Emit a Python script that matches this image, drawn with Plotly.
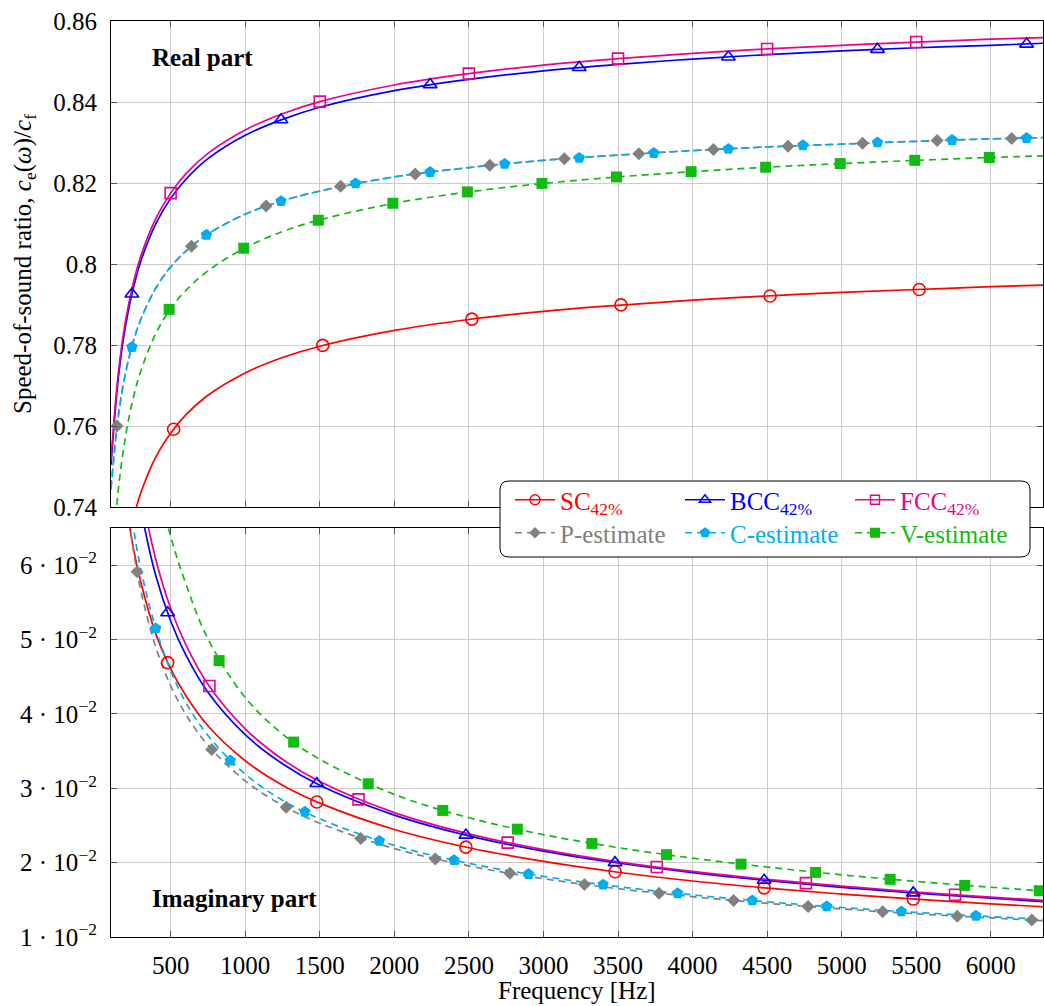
import plotly.graph_objects as go

# ---------------- data ----------------
freq = [100, 150, 200, 250, 300, 400, 500, 600, 750, 1000, 1250, 1500,
        2000, 2500, 3000, 3500, 4000, 4500, 5000, 5500, 6000, 6350]

# real part of c_e / c_f
re_sc = [0.6955, 0.7163, 0.7287, 0.7372, 0.7435, 0.7523, 0.7582, 0.7627, 0.7676, 0.7731, 0.7769, 0.7797,
         0.7836, 0.7863, 0.7883, 0.7898, 0.7911, 0.7921, 0.7930, 0.7937, 0.7944, 0.7948]
re_bcc = [0.7504, 0.7722, 0.7853, 0.7941, 0.8007, 0.8099, 0.8162, 0.8208, 0.8260, 0.8318, 0.8357, 0.8387,
          0.8428, 0.8456, 0.8477, 0.8493, 0.8506, 0.8517, 0.8526, 0.8534, 0.8540, 0.8545]
re_fcc = [0.7515, 0.7734, 0.7865, 0.7954, 0.8020, 0.8112, 0.8175, 0.8222, 0.8273, 0.8331, 0.8371, 0.8401,
          0.8442, 0.8470, 0.8491, 0.8507, 0.8520, 0.8531, 0.8540, 0.8548, 0.8555, 0.8559]
re_p = [0.7448, 0.7630, 0.7736, 0.7809, 0.7864, 0.7940, 0.7993, 0.8031, 0.8074, 0.8123, 0.8156, 0.8180,
        0.8215, 0.8238, 0.8256, 0.8269, 0.8280, 0.8289, 0.8296, 0.8303, 0.8309, 0.8312]
re_c = [0.7443, 0.7625, 0.7734, 0.7808, 0.7863, 0.7940, 0.7993, 0.8031, 0.8074, 0.8123, 0.8156, 0.8180,
        0.8215, 0.8238, 0.8256, 0.8269, 0.8280, 0.8289, 0.8296, 0.8303, 0.8309, 0.8312]
re_v = [0.7228, 0.7446, 0.7580, 0.7670, 0.7736, 0.7828, 0.7890, 0.7934, 0.7983, 0.8040, 0.8080, 0.8109,
        0.8150, 0.8178, 0.8199, 0.8215, 0.8228, 0.8239, 0.8248, 0.8256, 0.8263, 0.8267]

# imaginary part of c_e / c_f
im_sc = [0.0920, 0.0776, 0.0686, 0.0623, 0.0577, 0.0508, 0.0461, 0.0425, 0.0384, 0.0337, 0.0304, 0.0280,
         0.02446, 0.0220, 0.02016, 0.01871, 0.01753, 0.01658, 0.01577, 0.01508, 0.01446, 0.01407]
im_bcc = [0.1160, 0.0950, 0.0825, 0.0739, 0.0676, 0.0586, 0.0525, 0.0480, 0.0429, 0.0372, 0.0333, 0.0304,
          0.02639, 0.0236, 0.02154, 0.01995, 0.01866, 0.01759, 0.01667, 0.0159, 0.01521, 0.01477]
im_fcc = [0.1220, 0.0996, 0.0863, 0.0771, 0.0703, 0.0608, 0.0542, 0.0494, 0.0440, 0.0380, 0.0339, 0.0309,
          0.02672, 0.02386, 0.02174, 0.02011, 0.01882, 0.01774, 0.01683, 0.01605, 0.01536, 0.01493]
im_p = [0.0980, 0.0800, 0.0693, 0.0620, 0.0566, 0.0490, 0.0438, 0.0400, 0.0358, 0.0310, 0.0277, 0.0253,
        0.02189, 0.01956, 0.01784, 0.0165, 0.01542, 0.01452, 0.01377, 0.01312, 0.01256, 0.0122]
im_c = [0.1030, 0.0841, 0.0728, 0.0651, 0.0595, 0.0515, 0.0458, 0.0416, 0.0371, 0.0319, 0.0284, 0.0259,
        0.02232, 0.0199, 0.01815, 0.01678, 0.01567, 0.01474, 0.01397, 0.01331, 0.01274, 0.01239]
im_v = [0.1500, 0.1225, 0.1054, 0.0936, 0.0849, 0.0725, 0.0639, 0.0576, 0.0501, 0.0422, 0.0373, 0.0339,
        0.02918, 0.02604, 0.02377, 0.02202, 0.0206, 0.01941, 0.01836, 0.01748, 0.01669, 0.01619]

# marker samples (frequency, value) — real part
re_sc_mf = [520, 1520, 2520, 3520, 4520, 5520]
re_sc_mv = [0.7592, 0.7799, 0.7864, 0.7899, 0.7921, 0.7937]
re_bcc_mf = [240, 1240, 2240, 3240, 4240, 5240, 6240]
re_bcc_mv = [0.7926, 0.8356, 0.8443, 0.8485, 0.8511, 0.8530, 0.8543]
re_fcc_mf = [500, 1500, 2500, 3500, 4500, 5500]
re_fcc_mv = [0.8175, 0.8401, 0.8470, 0.8507, 0.8531, 0.8548]
re_p_mf = [140, 640, 1140, 1640, 2140, 2640, 3140, 3640, 4140, 4640, 5140, 5640, 6140]
re_p_mv = [0.7600, 0.8044, 0.8143, 0.8192, 0.8222, 0.8244, 0.8260, 0.8272, 0.8283, 0.8291, 0.8298, 0.8305, 0.8310]
re_c_mf = [240, 740, 1240, 1740, 2240, 2740, 3240, 3740, 4240, 4740, 5240, 5740, 6240]
re_c_mv = [0.7795, 0.8072, 0.8155, 0.8199, 0.8227, 0.8247, 0.8262, 0.8274, 0.8284, 0.8293, 0.8300, 0.8306, 0.8311]
re_v_mf = [490, 990, 1490, 1990, 2490, 2990, 3490, 3990, 4490, 4990, 5490, 5990]
re_v_mv = [0.7888, 0.8039, 0.8108, 0.8150, 0.8178, 0.8199, 0.8215, 0.8228, 0.8239, 0.8248, 0.8256, 0.8263]

# marker samples — imaginary part
im_sc_mf = [480, 1480, 2480, 3480, 4480, 5480]
im_sc_mv = [0.0469, 0.02816, 0.02208, 0.01877, 0.01661, 0.0151]
im_bcc_mf = [480, 1480, 2480, 3480, 4480, 5480]
im_bcc_mv = [0.0536, 0.03065, 0.0237, 0.0200, 0.01763, 0.01593]
im_fcc_mf = [760, 1760, 2760, 3760, 4760, 5760]
im_fcc_mv = [0.04375, 0.02851, 0.02269, 0.01941, 0.01725, 0.01568]
im_p_mf = [275, 775, 1275, 1775, 2275, 2775, 3275, 3775, 4275, 4775, 5275, 5775, 6275]
im_p_mv = [0.0591, 0.0352, 0.02745, 0.02326, 0.0205, 0.01857, 0.01707, 0.01589, 0.01491, 0.0141, 0.01341, 0.0128, 0.01227]
im_c_mf = [400, 900, 1400, 1900, 2400, 2900, 3400, 3900, 4400, 4900, 5400, 5900]
im_c_mv = [0.0515, 0.03373, 0.02683, 0.02292, 0.02033, 0.01846, 0.01703, 0.01587, 0.01491, 0.01411, 0.01343, 0.01285]
im_v_mf = [825, 1325, 1825, 2325, 2825, 3325, 3825, 4325, 4825, 5325, 5825, 6325]
im_v_mv = [0.04717, 0.03621, 0.0306, 0.02702, 0.0245, 0.02258, 0.02107, 0.0198, 0.01869, 0.01776, 0.01694, 0.01622]

x_ticks = [500, 1000, 1500, 2000, 2500, 3000, 3500, 4000, 4500, 5000, 5500, 6000]
re_ticks = [0.74, 0.76, 0.78, 0.80, 0.82, 0.84, 0.86]
re_tick_text = ["0.74", "0.76", "0.78", "0.8", "0.82", "0.84", "0.86"]
im_ticks = [0.01, 0.02, 0.03, 0.04, 0.05, 0.06]
im_tick_text = ["%d · 10<sup>−2</sup>" % k for k in [1, 2, 3, 4, 5, 6]]

# ---------------- styles ----------------
FONT = "Liberation Serif"
C_SC, C_BCC, C_FCC = "#ff0000", "#0000ff", "#ec008c"
C_P, C_C, C_V = "#808080", "#00aeef", "#11bb11"
DASH = "7px,5px"

series = [
    dict(name="SC<sub>42%</sub>", color=C_SC, dash="solid", symbol="circle-open", size=12, lg="legend",
         re=re_sc, im=im_sc, re_m=(re_sc_mf, re_sc_mv), im_m=(im_sc_mf, im_sc_mv)),
    dict(name="BCC<sub>42%</sub>", color=C_BCC, dash="solid", symbol="triangle-up-open", size=12, lg="legend",
         re=re_bcc, im=im_bcc, re_m=(re_bcc_mf, re_bcc_mv), im_m=(im_bcc_mf, im_bcc_mv)),
    dict(name="FCC<sub>42%</sub>", color=C_FCC, dash="solid", symbol="square-open", size=11, lg="legend",
         re=re_fcc, im=im_fcc, re_m=(re_fcc_mf, re_fcc_mv), im_m=(im_fcc_mf, im_fcc_mv)),
    dict(name="P-estimate", color=C_P, dash=DASH, symbol="diamond", size=10, lg="legend2",
         re=re_p, im=im_p, re_m=(re_p_mf, re_p_mv), im_m=(im_p_mf, im_p_mv)),
    dict(name="C-estimate", color=C_C, dash=DASH, symbol="pentagon", size=12, lg="legend2",
         re=re_c, im=im_c, re_m=(re_c_mf, re_c_mv), im_m=(im_c_mf, im_c_mv)),
    dict(name="V-estimate", color=C_V, dash=DASH, symbol="square", size=11, lg="legend2",
         re=re_v, im=im_v, re_m=(re_v_mf, re_v_mv), im_m=(im_v_mf, im_v_mv)),
]

fig = go.Figure()

# curves
for s in series:
    for ys, xa, ya in ((s["re"], "x", "y"), (s["im"], "x2", "y2")):
        fig.add_trace(go.Scatter(
            x=freq, y=ys, xaxis=xa, yaxis=ya, mode="lines",
            line=dict(color=s["color"], width=1.7, dash=s["dash"], shape="spline", smoothing=1.0),
            showlegend=False, hoverinfo="skip"))

# markers on top of the curves
for s in series:
    open_sym = s["symbol"].endswith("open")
    for (mx, my), xa, ya in ((s["re_m"], "x", "y"), (s["im_m"], "x2", "y2")):
        fig.add_trace(go.Scatter(
            x=mx, y=my, xaxis=xa, yaxis=ya, mode="markers",
            marker=dict(symbol=s["symbol"], size=s["size"], color=s["color"],
                        line=dict(color=s["color"], width=1.6 if open_sym else 0)),
            showlegend=False, hoverinfo="skip"))

# legend entries
for s in series:
    open_sym = s["symbol"].endswith("open")
    fig.add_trace(go.Scatter(
        x=[None], y=[None], xaxis="x", yaxis="y", mode="lines+markers",
        name='<span style="color:%s">%s</span>' % (s["color"], s["name"]),
        line=dict(color=s["color"], width=1.6, dash=s["dash"]),
        marker=dict(symbol=s["symbol"], size=s["size"] - 2 if open_sym else s["size"] - 1,
                    color=s["color"], line=dict(color=s["color"], width=1.4 if open_sym else 0)),
        legend=s["lg"]))

# ---------------- layout ----------------
W, H = 1044, 1006
ML, MR, MT, MB = 111, 1, 21, 69
PW, PH = W - ML - MR, H - MT - MB


def px_x(px):
    return (px - ML) / PW


def px_y(py):
    return (H - MB - py) / PH


axis_common = dict(
    showline=True, linecolor="black", linewidth=1, mirror="ticks",
    ticks="inside", ticklen=6, tickcolor="#555555", tickwidth=1,
    showgrid=True, gridcolor="#cccccc", gridwidth=1, zeroline=False,
    tickfont=dict(family=FONT, size=25, color="black"), automargin=False,
)

top_dom = [px_y(507), 1.0]
bot_dom = [0.0, px_y(528)]

legend_common = dict(orientation="h", xanchor="left", yanchor="middle",
                     bgcolor="rgba(0,0,0,0)", borderwidth=0, font=dict(family=FONT, size=25),
                     entrywidth=115, entrywidthmode="pixels", itemwidth=40)

fig.update_layout(
    width=W, height=H,
    margin=dict(l=ML, r=MR, t=MT, b=MB, pad=0, autoexpand=False),
    paper_bgcolor="white", plot_bgcolor="white",
    font=dict(family=FONT, size=25, color="black"),
    xaxis=dict(axis_common, domain=[0, 1], anchor="y", range=[100, 6350],
               tickvals=x_ticks, showticklabels=False),
    yaxis=dict(axis_common, domain=top_dom, anchor="x", range=[0.74, 0.86],
               tickvals=re_ticks, ticktext=re_tick_text, ticklabelstandoff=8),
    xaxis2=dict(axis_common, domain=[0, 1], anchor="y2", range=[100, 6350], matches="x",
                tickvals=x_ticks, ticktext=[str(v) for v in x_ticks], ticklabelstandoff=6),
    yaxis2=dict(axis_common, domain=bot_dom, anchor="x2", range=[0.01, 0.065],
                tickvals=im_ticks, ticktext=im_tick_text, ticklabelstandoff=8),
    legend=dict(legend_common, x=px_x(510), y=px_y(500)),
    legend2=dict(legend_common, x=px_x(510), y=px_y(533)),
    showlegend=True,
)

# rounded white box behind both legend rows
bx0, bx1, by0, by1, r = 500, 1030, 481, 557, 9
rx, ry = r / PW, r / PH
X0, X1, Y0, Y1 = px_x(bx0), px_x(bx1), px_y(by0), px_y(by1)
path = (f"M {X0 + rx},{Y0} L {X1 - rx},{Y0} Q {X1},{Y0} {X1},{Y0 - ry} "
        f"L {X1},{Y1 + ry} Q {X1},{Y1} {X1 - rx},{Y1} "
        f"L {X0 + rx},{Y1} Q {X0},{Y1} {X0},{Y1 + ry} "
        f"L {X0},{Y0 - ry} Q {X0},{Y0} {X0 + rx},{Y0} Z")
fig.add_shape(type="path", path=path, xref="paper", yref="paper", layer="above",
              fillcolor="white", line=dict(color="black", width=1))

# panel labels and axis titles
fig.add_annotation(text="<b>Real part</b>", x=px_x(150), y=px_y(58), xref="paper", yref="paper",
                   xanchor="left", yanchor="middle", showarrow=False,
                   font=dict(family=FONT, size=25, color="black"))
fig.add_annotation(text="<b>Imaginary part</b>", x=px_x(150), y=px_y(898), xref="paper", yref="paper",
                   xanchor="left", yanchor="middle", showarrow=False,
                   font=dict(family=FONT, size=25, color="black"))
fig.add_annotation(text="Speed-of-sound ratio, <i>c</i><sub>e</sub>(<i>ω</i>)/<i>c</i><sub>f</sub>",
                   x=px_x(24), y=px_y(264), xref="paper", yref="paper", textangle=-90,
                   xanchor="center", yanchor="middle", showarrow=False,
                   font=dict(family=FONT, size=25, color="black"))
fig.add_annotation(text="Frequency [Hz]", x=px_x(577), y=px_y(990), xref="paper", yref="paper",
                   xanchor="center", yanchor="middle", showarrow=False,
                   font=dict(family=FONT, size=25, color="black"))

fig.write_html("out.html")
